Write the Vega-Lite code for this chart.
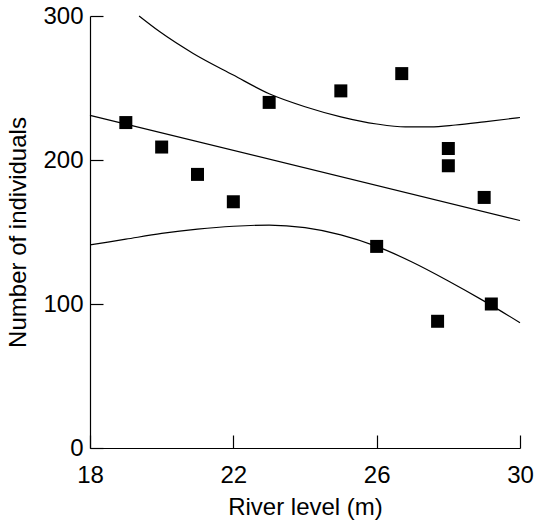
{
  "$schema": "https://vega.github.io/schema/vega-lite/v6.json",
  "width": 430,
  "height": 432,
  "autosize": "none",
  "padding": {"left": 90, "top": 16, "right": 16, "bottom": 72},
  "config": {
    "view": {"stroke": null},
    "font": "Liberation Sans",
    "axis": {
      "grid": false,
      "domainColor": "black",
      "domainWidth": 1.2,
      "tickColor": "black",
      "tickWidth": 1.2,
      "tickSize": -13,
      "labelColor": "black",
      "titleColor": "black",
      "labelFontSize": 24,
      "titleFontSize": 24,
      "titleFontWeight": "normal",
      "labelFont": "Liberation Sans",
      "titleFont": "Liberation Sans",
      "labelFlush": false
    }
  },
  "layer": [
    {
      "data": {"values": [
        {"curve": "fit", "level": 18, "n": 231},
        {"curve": "fit", "level": 30, "n": 158},
        {"curve": "upper", "level": 19.37, "n": 300},
        {"curve": "upper", "level": 19.95, "n": 289},
        {"curve": "upper", "level": 20.88, "n": 274},
        {"curve": "upper", "level": 22, "n": 259},
        {"curve": "upper", "level": 23, "n": 246},
        {"curve": "upper", "level": 24, "n": 237},
        {"curve": "upper", "level": 25, "n": 230},
        {"curve": "upper", "level": 26, "n": 225},
        {"curve": "upper", "level": 26.8, "n": 223},
        {"curve": "upper", "level": 27.5, "n": 223},
        {"curve": "upper", "level": 28.2, "n": 224.3},
        {"curve": "upper", "level": 29, "n": 226.5},
        {"curve": "upper", "level": 30, "n": 229.5},
        {"curve": "lower", "level": 18, "n": 141},
        {"curve": "lower", "level": 19, "n": 145},
        {"curve": "lower", "level": 20, "n": 149},
        {"curve": "lower", "level": 21, "n": 152},
        {"curve": "lower", "level": 22, "n": 154},
        {"curve": "lower", "level": 23, "n": 154.8},
        {"curve": "lower", "level": 24, "n": 153},
        {"curve": "lower", "level": 25, "n": 148},
        {"curve": "lower", "level": 26, "n": 140},
        {"curve": "lower", "level": 27, "n": 129},
        {"curve": "lower", "level": 28, "n": 116},
        {"curve": "lower", "level": 29, "n": 102},
        {"curve": "lower", "level": 30, "n": 87}
      ]},
      "mark": {"type": "line", "interpolate": "monotone", "color": "black", "strokeWidth": 1.2},
      "encoding": {
        "x": {"field": "level", "type": "quantitative"},
        "y": {"field": "n", "type": "quantitative"},
        "detail": {"field": "curve"}
      }
    },
    {
      "data": {"values": [
        {"level": 19, "n": 226},
        {"level": 20, "n": 209},
        {"level": 21, "n": 190},
        {"level": 22, "n": 171},
        {"level": 23, "n": 240},
        {"level": 25, "n": 248},
        {"level": 26.7, "n": 260},
        {"level": 28, "n": 208},
        {"level": 28, "n": 196},
        {"level": 29, "n": 174},
        {"level": 26, "n": 140},
        {"level": 27.7, "n": 88},
        {"level": 29.2, "n": 100}
      ]},
      "mark": {"type": "square", "size": 169, "filled": true, "color": "black", "opacity": 1},
      "encoding": {
        "x": {"field": "level", "type": "quantitative", "title": "River level (m)",
              "scale": {"domain": [18, 30], "nice": false, "zero": false},
              "axis": {"values": [18, 22, 26, 30], "labelPadding": 28, "titlePadding": 8}},
        "y": {"field": "n", "type": "quantitative", "title": "Number of individuals",
              "scale": {"domain": [0, 300], "nice": false},
              "axis": {"values": [0, 100, 200, 300], "labelPadding": 20, "titlePadding": 12}}
      }
    }
  ]
}
